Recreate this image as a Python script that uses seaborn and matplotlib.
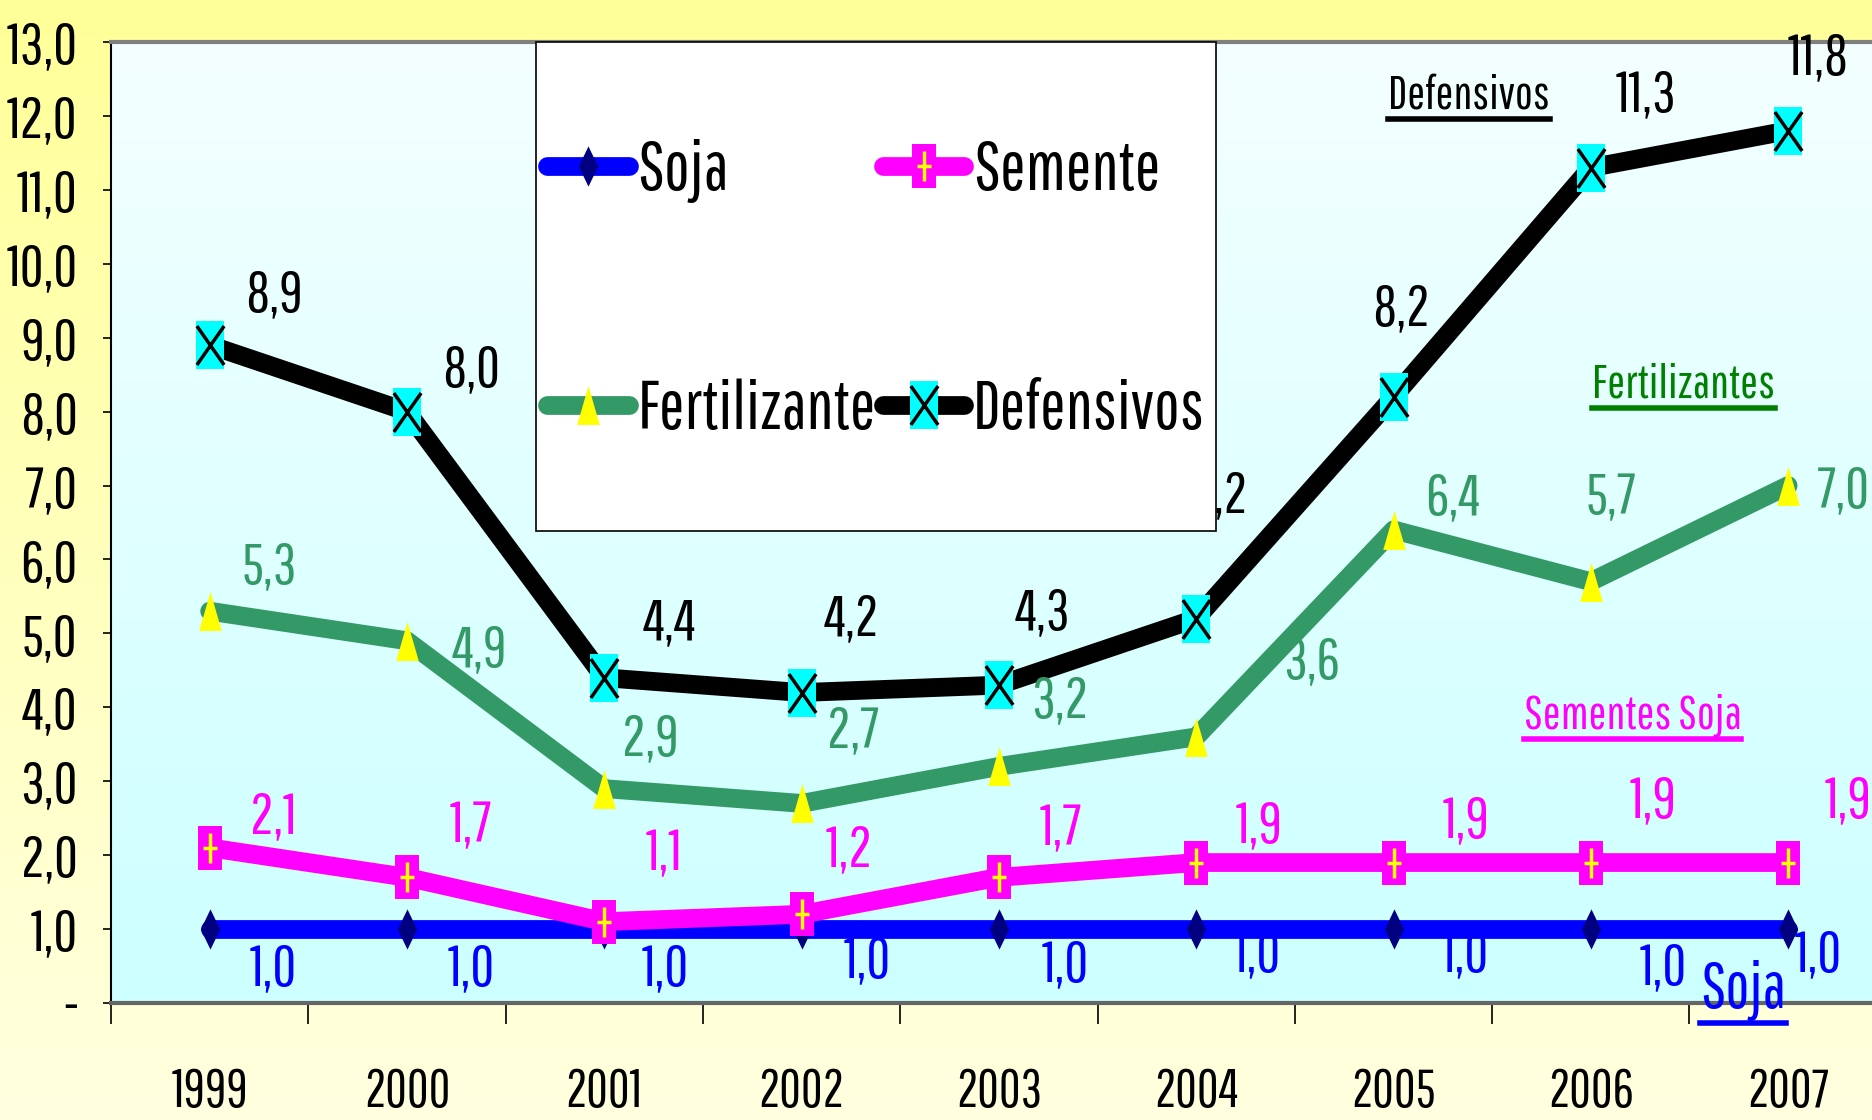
import numpy as np
import matplotlib
matplotlib.use("Agg")
import matplotlib.pyplot as plt
import seaborn as sns
from matplotlib.path import Path
from matplotlib.lines import Line2D
from matplotlib.patches import Rectangle
from matplotlib.colors import LinearSegmentedColormap

# data
years = ["1999", "2000", "2001", "2002", "2003", "2004", "2005", "2006", "2007"]
soja = [1.0, 1.0, 1.0, 1.0, 1.0, 1.0, 1.0, 1.0, 1.0]
semente = [2.1, 1.7, 1.1, 1.2, 1.7, 1.9, 1.9, 1.9, 1.9]
fertilizante = [5.3, 4.9, 2.9, 2.7, 3.2, 3.6, 6.4, 5.7, 7.0]
defensivos = [8.9, 8.0, 4.4, 4.2, 4.3, 5.2, 8.2, 11.3, 11.8]
y_ticks = list(range(14))

# data label offsets (points) as placed in the original chart
off_soja = [(46, -29), (46, -29), (44, -29), (47, -23), (48, -26), (44, -19), (52, -19), (52, -28), (22, -19)]
off_semente = [(46, 22), (46, 37), (43, 49), (34, 46), (45, 35), (45, 26), (52, 30), (45, 44), (43, 44)]
off_fert = [(43, 32), (52, -7), (33, 36), (37, 52), (44, 47), (83, 54), (43, 23), (15, 60), (40, -4)]
off_def = [(46, 36), (46, 30), (47, 39), (36, 53), (31, 52), (17, 88), (5, 63), (40, 52), (22, 52)]

plt.rcParams["font.family"] = ["Pathway Gothic One", "Sofia Sans Extra Condensed", "Archivo Narrow", "DejaVu Sans"]

W, H = 1872, 1120
fig = plt.figure(figsize=(W / 100, H / 100), dpi=100)

# page background gradient
grad = np.linspace(0, 1, 256)[:, None]
bg = fig.add_axes([0, 0, 1, 1], zorder=-10)
bg.axis("off")
bg.imshow(grad, cmap=LinearSegmentedColormap.from_list("bg", ["#FFFF99", "#FFFFE0"]),
          aspect="auto", extent=[0, 1, 0, 1])

ax = fig.add_axes([111 / W, 117 / H, 1 - 111 / W, 961 / H])
ax.imshow(grad, cmap=LinearSegmentedColormap.from_list("pl", ["#F4FFFF", "#CCFFFF"]),
          aspect="auto", extent=[0, 1, 0, 1], transform=ax.transAxes, zorder=0)


def poly(pts):
    return Path(pts + [pts[0]], [Path.MOVETO] + [Path.LINETO] * (len(pts) - 1) + [Path.CLOSEPOLY])


diamond = poly([(0, -0.5), (0.24, 0), (0, 0.5), (-0.24, 0)])
rect_s = poly([(-0.27, -0.5), (0.27, -0.5), (0.27, 0.5), (-0.27, 0.5)])
plus = Path([(-0.25, 0), (0.25, 0), (0, -0.5), (0, 0.5)],
            [Path.MOVETO, Path.LINETO, Path.MOVETO, Path.LINETO])
tri = poly([(-0.29, -0.5), (0.29, -0.5), (0, 0.5)])
rect_d = poly([(-0.3, -0.5), (0.3, -0.5), (0.3, 0.5), (-0.3, 0.5)])
xmark = Path([(-0.35, -0.5), (0.35, 0.5), (-0.35, 0.5), (0.35, -0.5)],
             [Path.MOVETO, Path.LINETO, Path.MOVETO, Path.LINETO])

xs = np.arange(len(years))


def draw(vals, color, mk, ms, mfc, z, inner=None, inner_ms=0, inner_c=None):
    sns.lineplot(x=xs, y=vals, color=color, linewidth=13.5, marker=mk, markersize=ms,
                 markerfacecolor=mfc, markeredgecolor=mfc, markeredgewidth=0,
                 solid_capstyle="round", ax=ax, legend=False, zorder=z)
    hs = [ax.lines[-1]]
    if inner is not None:
        sns.lineplot(x=xs, y=vals, linewidth=0, marker=inner, markersize=inner_ms,
                     markerfacecolor="none", markeredgecolor=inner_c, markeredgewidth=2.5,
                     ax=ax, legend=False, zorder=z + 0.1)
        hs.append(ax.lines[-1])
    return tuple(hs)


h_soja = draw(soja, "#0000FF", diamond, 29, "#000080", 2)
h_sem = draw(semente, "#FF00FF", rect_s, 31, "#FF00FF", 3, plus, 21, "#FFFF00")
h_fert = draw(fertilizante, "#339966", tri, 28, "#FFFF00", 4)
h_def = draw(defensivos, "#000000", rect_d, 34, "#00FFFF", 5, xmark, 28, "#000000")


def fmt(v):
    return f"{v:.1f}".replace(".", ",")


for vals, offs, col in [(soja, off_soja, "#0000FF"), (semente, off_semente, "#FF00FF"),
                        (fertilizante, off_fert, "#339966"), (defensivos, off_def, "#000000")]:
    for i, (v, (dx, dy)) in enumerate(zip(vals, offs)):
        ax.annotate(fmt(v), (i, v), xytext=(dx, dy), textcoords="offset points",
                    ha="center", va="center", fontsize=42, color=col, zorder=6)

ax.set_xlim(-0.5, 8.425)
ax.set_ylim(0, 13)
ax.set_yticks(y_ticks)
ax.set_yticklabels(["-"] + [f"{t},0" for t in y_ticks[1:]])
ax.set_xticks(np.arange(-0.5, 8.0, 1.0))
ax.set_xticklabels([])
ax.set_xticks(xs, minor=True)
ax.set_xticklabels(years, minor=True)
ax.tick_params(axis="x", which="major", length=15, width=1.2, direction="out", color="black")
ax.tick_params(axis="x", which="minor", length=0, pad=46, labelsize=38)
ax.tick_params(axis="y", length=6, width=1.2, direction="out", pad=18, labelsize=42)
ax.set_xlabel("")
ax.set_ylabel("")

ax.spines["right"].set_visible(False)
ax.spines["top"].set_color("#808080")
ax.spines["top"].set_linewidth(3)
ax.spines["left"].set_color("black")
ax.spines["left"].set_linewidth(1.5)
ax.spines["bottom"].set_color("#666666")
ax.spines["bottom"].set_linewidth(3)

# legend box (white panel with thin black border) and its entries
bx, by, bw, bh = 425 / 1761, (1003 - 531) / 961, 680 / 1761, 489 / 961
ax.add_patch(Rectangle((bx, by), bw, bh, transform=ax.transAxes, facecolor="white",
                       edgecolor="black", linewidth=1.2, zorder=9, clip_on=False))
leg = ax.legend(handles=[h_soja, h_fert, h_sem, h_def],
                labels=["Soja", "Fertilizante", "Semente", "Defensivos"],
                ncol=2, loc="center", bbox_to_anchor=(bx + bw / 2, by + bh / 2 - 0.004),
                borderaxespad=0, fontsize=49, frameon=False, numpoints=1, handlelength=1.2,
                handletextpad=0.13, columnspacing=0.1, labelspacing=2.58, borderpad=0)
leg.set_zorder(10)

notes = [("Defensivos", 0.771, 0.944, "#000000", 34),
         ("Fertilizantes", 0.893, 0.644, "#008000", 34),
         ("Sementes Soja", 0.864, 0.299, "#FF00FF", 34),
         ("Soja", 0.927, 0.0125, "#0000FF", 46)]
texts = []
for s, x, y, c, fs in notes:
    t = ax.text(x, y, s, transform=ax.transAxes, ha="center", va="center",
                fontsize=fs, color=c, zorder=7)
    texts.append((t, c))

fig.canvas.draw()
for t, c in texts:
    bb = t.get_window_extent()
    fig.add_artist(Line2D([bb.x0 / W, bb.x1 / W], [(bb.y0 - 2) / H] * 2,
                          transform=fig.transFigure, color=c, lw=4, zorder=8))

fig.savefig("out.png", dpi=100)
